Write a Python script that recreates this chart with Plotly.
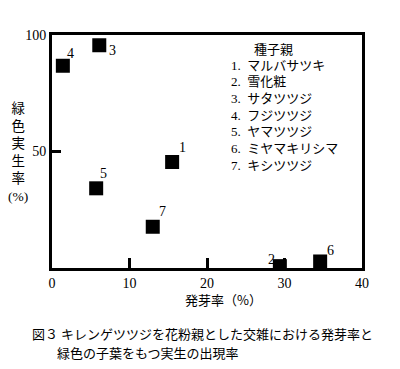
import plotly.graph_objects as go

# Data
labels = ["1", "2", "3", "4", "5", "6", "7"]
germination = [15.5, 29.4, 6.1, 1.4, 5.7, 34.6, 13.0]      # 発芽率 (%)
green_rate = [45.5, 0.8, 95.6, 86.8, 34.2, 2.8, 17.7]      # 緑色実生率 (%)
legend_title = "種子親"
legend_names = ["マルバサツキ", "雪化粧", "サタツツジ", "フジツツジ",
                "ヤマツツジ", "ミヤマキリシマ", "キシツツジ"]
x_ticks = [0, 10, 20, 30, 40]
y_ticks = [50, 100]

# label offsets (px) relative to marker centre: style only
label_offsets = [(10, 14), (-8, 7), (13, -5), (8, 12), (7, 15), (10, 11), (10, 15)]

SERIF = "Liberation Serif, Noto Sans CJK JP"
JP = "Noto Sans CJK JP"

L, R, T, B = 52, 38, 35, 101
W, H = 400, 369


def px(xp):
    return (xp - L) / (W - L - R)


def py(yp):
    return (H - B - yp) / (H - T - B)


def paper_text(xp, yp, text, font, xanchor="center"):
    return dict(x=px(xp), y=py(yp), xref="paper", yref="paper", text=text,
                showarrow=False, xanchor=xanchor, yanchor="middle", font=font)


fig = go.Figure()
fig.add_trace(go.Scatter(
    x=germination, y=green_rate, mode="markers",
    marker=dict(symbol="square", size=14, color="black", line=dict(width=0)),
    cliponaxis=True, showlegend=False, hoverinfo="skip"))

anns = []
for lab, xv, yv, (dx, dy) in zip(labels, germination, green_rate, label_offsets):
    anns.append(dict(x=xv, y=yv, xref="x", yref="y", text=lab, showarrow=False,
                     xshift=dx, yshift=dy, xanchor="center", yanchor="middle",
                     font=dict(family=SERIF, size=14, color="black")))

anns.append(paper_text(273, 48, legend_title, dict(family=JP, size=13, color="black")))
for i, name in enumerate(legend_names):
    anns.append(paper_text(229, 65 + i * 16.7, f"{i + 1}.  {name}",
                           dict(family=SERIF, size=13, color="black"), xanchor="left"))
anns.append(paper_text(18, 152, "緑<br>色<br>実<br>生<br>率<br>(%)",
                       dict(family=SERIF, size=13.5, color="black")))
anns.append(paper_text(223, 299, "発芽率（%）", dict(family=JP, size=13, color="black")))
anns.append(paper_text(30, 333, "図３ キレンゲツツジを花粉親とした交雑における発芽率と",
                       dict(family=JP, size=13, color="black"), xanchor="left"))
anns.append(paper_text(55, 352, "緑色の子葉をもつ実生の出現率",
                       dict(family=JP, size=13, color="black"), xanchor="left"))

fig.update_layout(
    width=W, height=H,
    margin=dict(l=L, r=R, t=T, b=B),
    paper_bgcolor="white", plot_bgcolor="white",
    annotations=anns,
    xaxis=dict(range=[0, 40], tickvals=x_ticks, ticks="inside", ticklen=10, tickwidth=3,
               tickcolor="black", showline=True, linewidth=3, linecolor="black", mirror=True,
               showgrid=False, zeroline=False,
               tickfont=dict(family=SERIF, size=14, color="black")),
    yaxis=dict(range=[0, 100], tickvals=y_ticks, ticks="inside", ticklen=9, tickwidth=3,
               tickcolor="black", showline=True, linewidth=3, linecolor="black", mirror=True,
               showgrid=False, zeroline=False,
               tickfont=dict(family=SERIF, size=14, color="black")),
)

fig.write_html("out.html")
